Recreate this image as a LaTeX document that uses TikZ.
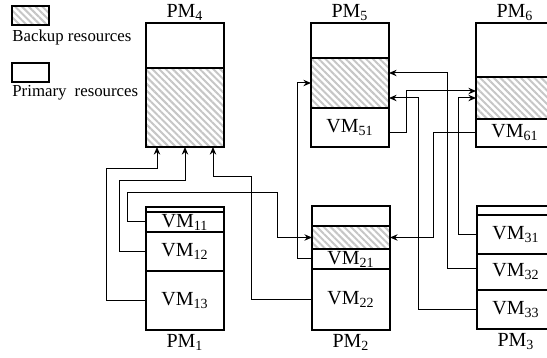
\documentclass[tikz,border=0pt]{standalone}
\usepackage{fontspec}
\setmainfont{Liberation Serif}
\usetikzlibrary{arrows.meta, positioning, calc, patterns.meta}

\begin{document}
\begin{tikzpicture}[x=0.5pt, y=-0.5pt,
    node distance=0pt,
    cell/.style={draw, line width=0.55pt, minimum width=39pt, inner sep=0pt, outer sep=0pt, font=\fontsize{10}{12}\selectfont},
    bak/.style={cell, pattern={Lines[angle=-45, distance=2.4pt, line width=1pt]}, pattern color=gray!45},
    pmlbl/.style={inner sep=0pt, font=\fontsize{10}{12}\selectfont},
    lgd/.style={inner sep=0pt, font=\fontsize{8.4}{10}\selectfont},
    wire/.style={line width=0.5pt},
    arr/.style={wire, -{Stealth[length=3.8pt, width=3.2pt]}}]
  \clip (0,0) rectangle (547,358);
  % legend
  \node[bak, anchor=north west, minimum width=18.5pt, minimum height=9.5pt] (keyb) at (12,6) {};
  \node[lgd, below right=2pt and 0pt of keyb.south west] (keybt) {Backup resources};
  \node[cell, anchor=north west, minimum width=18.5pt, minimum height=9.5pt] (keyp) at (12,63) {};
  \node[lgd, below right=1.5pt and 0pt of keyp.south west] (keypt) {Primary\hspace{2pt} resources};
  % PM4
  \node[cell, anchor=north west, minimum height=22.5pt] (pm4a) at (146,23) {};
  \node[bak, below=of pm4a, minimum height=39.5pt] (pm4b) {};
  \node[pmlbl, above=1pt of pm4a] {PM\textsubscript{4}};
  % PM5
  \node[cell, anchor=north west, minimum height=17.5pt] (pm5a) at (311,23) {};
  \node[bak, below=of pm5a, minimum height=25pt] (pm5b) {};
  \node[cell, below=of pm5b, minimum height=19.5pt] (vm51) {VM\textsubscript{51}};
  \node[pmlbl, above=1pt of pm5a] {PM\textsubscript{5}};
  % PM6
  \node[cell, anchor=north west, minimum height=27pt] (pm6a) at (476,23) {};
  \node[bak, below=of pm6a, minimum height=21pt] (pm6b) {};
  \node[cell, below=of pm6b, minimum height=14pt] (vm61) {VM\textsubscript{61}};
  \node[pmlbl, above=1pt of pm6a] {PM\textsubscript{6}};
  % PM1
  \node[cell, anchor=north west, minimum height=2.5pt] (pm1a) at (146,207) {};
  \node[cell, below=of pm1a, minimum height=10pt] (vm11) {VM\textsubscript{11}};
  \node[cell, below=of vm11, minimum height=19.5pt] (vm12) {VM\textsubscript{12}};
  \node[cell, below=of vm12, minimum height=29.5pt] (vm13) {VM\textsubscript{13}};
  \node[pmlbl, below=2pt of vm13] {PM\textsubscript{1}};
  % PM2
  \node[cell, anchor=north west, minimum height=10pt] (pm2a) at (312,206) {};
  \node[bak, below=of pm2a, minimum height=11.5pt] (pm2b) {};
  \node[cell, below=of pm2b, minimum height=10pt] (vm21) {VM\textsubscript{21}};
  \node[cell, below=of vm21, minimum height=30.5pt] (vm22) {VM\textsubscript{22}};
  \node[pmlbl, below=2pt of vm22] {PM\textsubscript{2}};
  % PM3
  \node[cell, anchor=north west, minimum height=4.5pt] (pm3a) at (477,206) {};
  \node[cell, below=of pm3a, minimum height=19.5pt] (vm31) {VM\textsubscript{31}};
  \node[cell, below=of vm31, minimum height=18pt] (vm32) {VM\textsubscript{32}};
  \node[cell, below=of vm32, minimum height=19.5pt] (vm33) {VM\textsubscript{33}};
  \node[pmlbl, below=2pt of vm33] {PM\textsubscript{3}};
  % backups of PM1 and PM2
  \draw[arr] (vm13.west) -- ++(-40,0) -- ++(0,-132) -| ($(pm4b.south)+(-28,0)$);
  \draw[arr] (vm12.west) -- ++(-27,0) -- ++(0,-71) -| (pm4b.south);
  \draw[arr] (vm11.west) -- ++(-19,0) -- ++(0,-29) -- ++(150,0) |- (pm2b.west);
  \draw[arr] (vm22.west) -- ++(-61,0) -- ++(0,-123) -| ($(pm4b.south)+(28,0)$);
  \draw[arr] (vm21.west) -- ++(-15,0) |- (pm5b.west);
  % backups of PM3, PM5 and PM6
  \draw[arr] ([yshift=-2.5pt]vm51.east) -- ++(17,0) |- ([yshift=3.5pt]pm6b.west);
  \draw[arr] (vm61.west) -- ++(-43,0) |- (pm2b.east);
  \draw[arr] (vm31.west) -- ++(-19,0) |- (pm6b.west);
  \draw[arr] ([yshift=1.5pt]vm32.west) -- ++(-30,0) |- ([yshift=5pt]pm5b.east);
  \draw[arr] (vm33.west) -- ++(-59,0) |- ([yshift=-7.5pt]pm5b.east);
\end{tikzpicture}
\end{document}
